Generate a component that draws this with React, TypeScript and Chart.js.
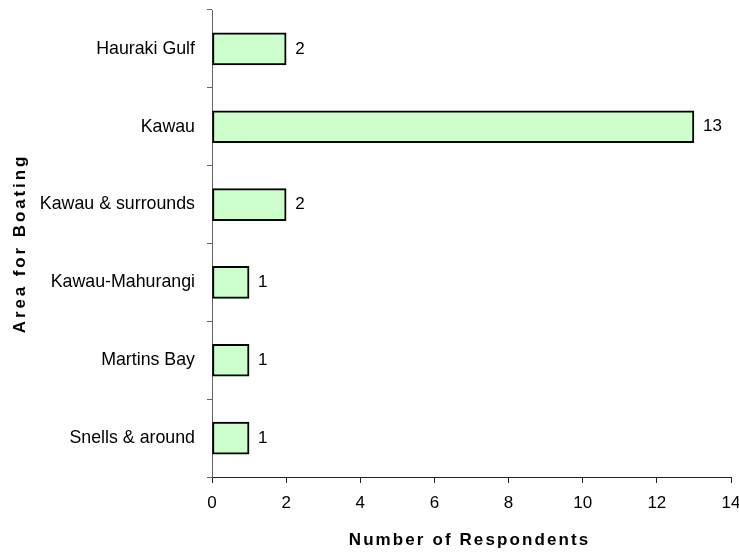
import React, { useEffect, useRef } from "react";
import { Chart, registerables } from "chart.js";

Chart.register(...registerables);

const categories = [
  "Hauraki Gulf",
  "Kawau",
  "Kawau & surrounds",
  "Kawau-Mahurangi",
  "Martins Bay",
  "Snells & around",
];
const respondents = [2, 13, 2, 1, 1, 1];
const xTitle = "Number of Respondents";
const yTitle = "Area for Boating";

const FONT = "'Liberation Sans', Arial, sans-serif";

const annotatePlugin = {
  id: "annotate",
  afterDatasetsDraw(chart: any) {
    const ctx = chart.ctx as CanvasRenderingContext2D;
    const meta = chart.getDatasetMeta(0);
    ctx.save();
    ctx.fillStyle = "#000";
    ctx.font = `17px ${FONT}`;
    ctx.textAlign = "left";
    ctx.textBaseline = "middle";
    meta.data.forEach((bar: any, i: number) => {
      ctx.fillText(String(respondents[i]), bar.x + 9, bar.y);
    });
    ctx.restore();
  },
  afterDraw(chart: any) {
    const ctx = chart.ctx as CanvasRenderingContext2D;
    const area = chart.chartArea;
    ctx.save();
    ctx.fillStyle = "#000";
    ctx.font = `bold 17px ${FONT}`;
    (ctx as any).letterSpacing = "2.1px";
    ctx.textAlign = "center";
    ctx.textBaseline = "alphabetic";
    ctx.fillText(xTitle, (area.left + area.right) / 2 - 2, 545);
    ctx.restore();

    ctx.save();
    ctx.fillStyle = "#000";
    ctx.font = `bold 17px ${FONT}`;
    (ctx as any).letterSpacing = "2.9px";
    ctx.textAlign = "center";
    ctx.textBaseline = "alphabetic";
    ctx.translate(25, (area.top + area.bottom) / 2);
    ctx.rotate(-Math.PI / 2);
    ctx.fillText(yTitle, 0, 0);
    ctx.restore();
  },
};

export default function App() {
  const ref = useRef<HTMLCanvasElement | null>(null);
  useEffect(() => {
    if (!ref.current) return;
    const chart = new Chart(ref.current, {
      type: "bar",
      data: {
        labels: categories,
        datasets: [
          {
            data: respondents,
            backgroundColor: "#CCFFCC",
            borderColor: "#000000",
            borderWidth: 2,
            borderSkipped: false,
            barThickness: 32,
          },
        ],
      },
      options: {
        indexAxis: "y",
        animation: false,
        responsive: false,
        maintainAspectRatio: false,
        layout: { padding: { left: 0, right: 8, top: 10, bottom: 0 } },
        plugins: {
          legend: { display: false },
          tooltip: { enabled: false },
        },
        scales: {
          x: {
            type: "linear",
            min: 0,
            max: 14,
            ticks: {
              stepSize: 2,
              color: "#000",
              font: { family: FONT, size: 17 },
              padding: 10,
              maxRotation: 0,
            },
            grid: {
              drawOnChartArea: false,
              drawTicks: true,
              tickLength: 6,
              color: "#222",
            },
            border: { color: "#222", width: 1 },
            afterFit(scale: any) {
              scale.height = 75;
              scale.paddingLeft = 0;
              scale.paddingRight = 0;
            },
          },
          y: {
            type: "category",
            offset: true,
            ticks: {
              color: "#000",
              font: { family: FONT, size: 17.8 },
              padding: 12,
            },
            grid: {
              offset: true,
              drawOnChartArea: false,
              drawTicks: true,
              tickLength: 5,
              color: "#666",
            },
            border: { color: "#666", width: 1 },
            afterFit(scale: any) {
              scale.width = 212;
              scale.paddingTop = 0;
              scale.paddingBottom = 0;
            },
          },
        },
      },
      plugins: [annotatePlugin],
    });
    return () => chart.destroy();
  }, []);

  return (
    <div style={{ position: "absolute", left: 0, top: 0, width: 739, height: 552, background: "#fff" }}>
      <canvas ref={ref} width={739} height={552} style={{ display: "block" }} />
    </div>
  );
}
